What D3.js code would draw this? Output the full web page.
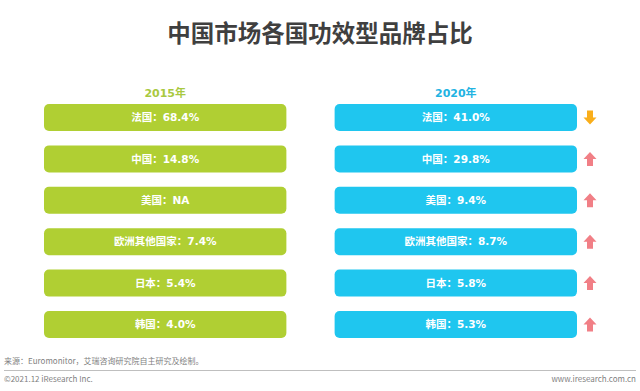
<!DOCTYPE html>
<html>
<head>
<meta charset="utf-8">
<script src="https://cdn.jsdelivr.net/npm/d3@7/dist/d3.min.js"></script>
<style>
  html, body { margin: 0; padding: 0; background: #fff; }
  svg { display: block; }
</style>
</head>
<body>
<script>
// data
var countries = ["法国", "中国", "美国", "欧洲其他国家", "日本", "韩国"];
var share2015 = [68.4, 14.8, null, 7.4, 5.4, 4.0];
var share2020 = [41.0, 29.8, 9.4, 8.7, 5.8, 5.3];
var years = ["2015年", "2020年"];

var width = 640, height = 391;
var cjk = "'Noto Sans CJK SC', sans-serif";
var mixed = "'DejaVu Sans', 'Noto Sans CJK SC', sans-serif";

var svg = d3.select("body").append("svg")
    .attr("width", width)
    .attr("height", height);

// title
svg.append("text")
    .attr("x", 320)
    .attr("y", 42)
    .attr("text-anchor", "middle")
    .style("font-family", cjk)
    .style("font-weight", "bold")
    .style("font-size", "23.5px")
    .style("fill", "#3f3f3f")
    .text("中国市场各国功效型品牌占比");

// row positions
var y = d3.scaleBand()
    .domain(countries)
    .range([104, 338])
    .paddingInner(0.348)
    .paddingOuter(0);

// the two columns
var columns = d3.scaleBand()
    .domain(years)
    .range([44, 577])
    .paddingInner(0.166);

var colors = { "2015年": "#b0cf33", "2020年": "#1fc6ef" };
var heads  = { "2015年": "#a9c93f", "2020年": "#22b3e2" };
var values = { "2015年": share2015, "2020年": share2020 };

function label(name, v) {
    return name + "：" + (v == null ? "NA" : v.toFixed(1) + "%");
}

years.forEach(function(yr) {
    var x0 = columns(yr), bw = columns.bandwidth();

    svg.append("text")
        .attr("x", x0 + bw / 2)
        .attr("y", 97)
        .attr("text-anchor", "middle")
        .style("font-family", mixed)
        .style("font-weight", "bold")
        .style("font-size", "11px")
        .style("fill", heads[yr])
        .text(yr);

    var row = svg.selectAll(".row-" + yr)
        .data(countries)
        .enter()
        .append("g")
            .attr("transform", function(d) { return "translate(" + x0 + "," + y(d) + ")"; });

    row.append("rect")
        .attr("width", bw)
        .attr("height", y.bandwidth())
        .attr("rx", 5)
        .attr("ry", 5)
        .style("fill", colors[yr]);

    row.append("text")
        .attr("x", bw / 2)
        .attr("y", y.bandwidth() / 2)
        .attr("dy", ".36em")
        .attr("text-anchor", "middle")
        .style("font-family", mixed)
        .style("font-weight", "bold")
        .style("font-size", "10.5px")
        .style("fill", "#fff")
        .text(function(d, i) { return label(d, values[yr][i]); });
});

// trend arrows (2020 vs 2015)
var arrowUp = "M0,-7 L6.5,0 L3,0 L3,7 L-3,7 L-3,0 L-6.5,0 Z";
svg.selectAll(".arrow")
    .data(countries)
    .enter()
    .append("path")
        .attr("class", "arrow")
        .attr("d", arrowUp)
        .attr("transform", function(d, i) {
            var down = share2015[i] != null && share2020[i] < share2015[i];
            return "translate(590," + (y(d) + y.bandwidth() / 2) + ")" + (down ? " rotate(180)" : "");
        })
        .style("fill", function(d, i) {
            return share2015[i] != null && share2020[i] < share2015[i] ? "#f9ae1b" : "#f17f86";
        });

// footer
svg.append("text")
    .attr("x", 4)
    .attr("y", 364)
    .style("font-family", cjk)
    .style("font-size", "8px")
    .style("fill", "#7f7f7f")
    .text("来源：Euromonitor，艾瑞咨询研究院自主研究及绘制。");

svg.append("line")
    .attr("x1", 4).attr("x2", 636)
    .attr("y1", 370.5).attr("y2", 370.5)
    .style("stroke", "#bfbfbf")
    .style("stroke-width", 1);

svg.append("text")
    .attr("x", 4)
    .attr("y", 382)
    .style("font-family", cjk)
    .style("font-size", "8px")
    .style("fill", "#7f7f7f")
    .text("©2021.12 iResearch Inc.");

svg.append("text")
    .attr("x", 636)
    .attr("y", 382)
    .attr("text-anchor", "end")
    .style("font-family", cjk)
    .style("font-size", "8px")
    .style("fill", "#7f7f7f")
    .text("www.iresearch.com.cn");
</script>
</body>
</html>
